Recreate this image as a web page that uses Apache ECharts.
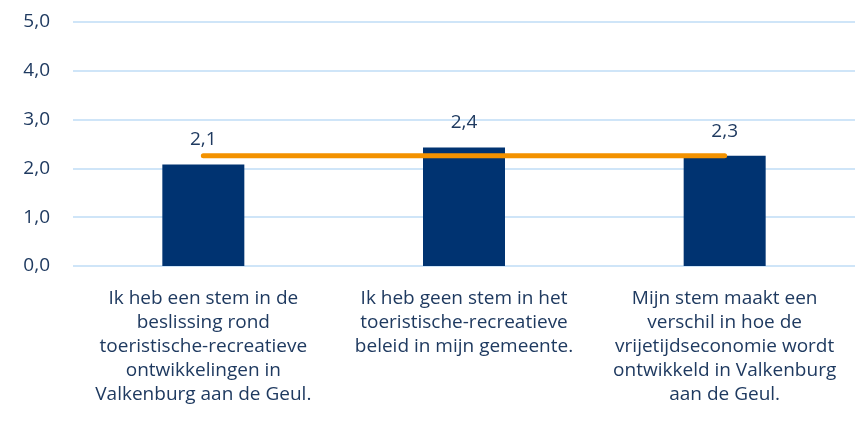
<!DOCTYPE html>
<html>
<head>
<meta charset="utf-8">
<script src="https://cdn.jsdelivr.net/npm/echarts@6/dist/echarts.min.js"></script>
<style>
    html, body { margin: 0; padding: 0; background: #fff; }
    #chart { width: 855px; height: 425px; }
</style>
</head>
<body>
<div id="chart"></div>
<script>
// stellingen (categorieën)
var categories = [
    'Ik heb een stem in de\nbeslissing rond\ntoeristische-recreatieve\nontwikkelingen in\nValkenburg aan de Geul.',
    'Ik heb geen stem in het\ntoeristische-recreatieve\nbeleid in mijn gemeente.',
    'Mijn stem maakt een\nverschil in hoe de\nvrijetijdseconomie wordt\nontwikkeld in Valkenburg\naan de Geul.'
];
// gemiddelde scores
var scores = [2.08, 2.43, 2.26];
// gemiddelde over alle stellingen (oranje lijn)
var average = [2.26, 2.26, 2.26];
var yTicks = [0, 1, 2, 3, 4, 5];

var textColor = '#1f3a60';
var fontName = '"Open Sans", sans-serif';

function fmt(v) {
    return v.toFixed(1).replace('.', ',');
}

var myChart = echarts.init(document.getElementById('chart'));

var option = {
    animation: false,
    grid: {
        left: 73,
        top: 22,
        width: 789,
        bottom: 159
    },
    xAxis: {
        type: 'category',
        data: categories,
        axisLine: { show: false },
        axisTick: { show: false },
        axisLabel: {
            color: textColor,
            fontFamily: fontName,
            fontSize: 19,
            lineHeight: 24,
            margin: 21,
            interval: 0
        }
    },
    yAxis: {
        type: 'value',
        min: yTicks[0],
        max: yTicks[yTicks.length - 1],
        interval: 1,
        axisLine: { show: false },
        axisTick: { show: false },
        axisLabel: {
            color: textColor,
            fontFamily: fontName,
            fontSize: 19,
            margin: 23,
            formatter: function(v) { return fmt(v); }
        },
        splitLine: {
            lineStyle: { color: '#cfe5f8', width: 2 }
        }
    },
    series: [
        {
            name: 'score',
            type: 'bar',
            data: scores,
            barWidth: 82,
            itemStyle: { color: '#003371' },
            label: {
                show: true,
                position: 'top',
                distance: 15,
                color: textColor,
                fontFamily: fontName,
                fontSize: 19,
                formatter: function(p) { return fmt(p.value); }
            },
            z: 2
        },
        {
            name: 'gemiddelde',
            type: 'line',
            data: average,
            symbol: 'none',
            lineStyle: { color: '#f39200', width: 5, cap: 'round' },
            z: 3
        }
    ]
};

myChart.setOption(option);
</script>
</body>
</html>
